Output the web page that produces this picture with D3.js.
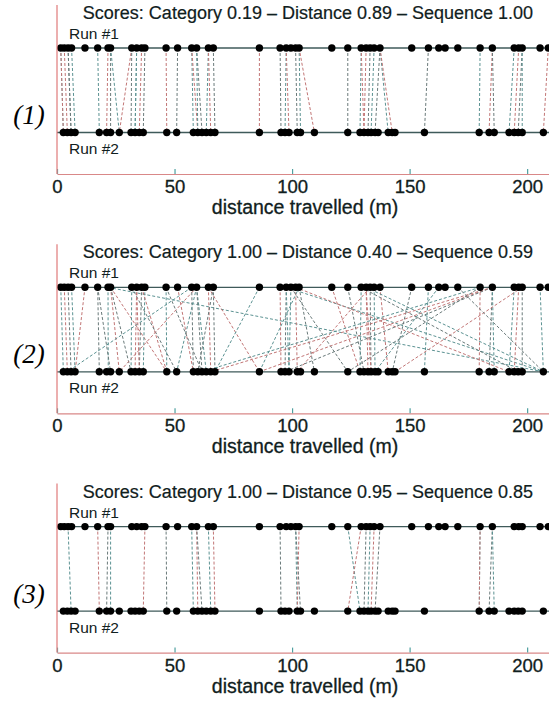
<!DOCTYPE html>
<html>
<head>
<meta charset="utf-8">
<script src="https://cdn.jsdelivr.net/npm/d3@7"></script>
<style>
  body { margin: 0; background: #fff; }
  svg { display: block; font-family: "Liberation Sans", Arial, sans-serif; }
</style>
</head>
<body>
<div id="chart"></div>
<script>
// dot positions along the route (m), same for every panel
const RUN1 = [1.6, 3.1, 4.7, 6.2, 11.9, 17.3, 21.7, 22.8, 31.8, 33.9, 36.0, 37.4, 46.4, 51.3,
  57.3, 59.4, 64.4, 66.5, 86.1, 94.9, 97.5, 99.5, 101.5, 103.0, 116.9, 123.7, 129.4, 131.5,
  133.2, 134.9, 137.4, 150.9, 158.0, 162.4, 165.1, 170.5, 180.0, 185.2, 194.5, 196.4, 197.9,
  205.5, 209.0];
const RUN2 = [2.7, 4.4, 6.0, 7.7, 18.0, 21.1, 22.8, 26.5, 31.5, 33.2, 35.0, 36.7, 46.7, 50.9,
  58.0, 59.9, 61.7, 63.5, 65.4, 67.2, 86.1, 95.3, 97.0, 98.7, 102.2, 103.6, 109.5, 123.7,
  128.9, 130.6, 132.3, 133.6, 135.3, 136.6, 140.9, 142.6, 143.8, 156.3, 179.6, 183.8, 186.0,
  192.3, 194.5, 196.2, 197.9, 206.9];

// matches [run #1 m, run #2 m]
const LINKS1 = [[1.6, 2.7], [3.1, 4.4], [4.7, 6.0], [6.2, 7.7], [1.6, 2.7], [4.7, 6.0],
  [17.3, 18.0], [21.7, 21.1], [22.8, 22.8], [22.8, 26.5], [31.8, 26.5],
  [31.8, 31.5], [33.9, 33.2], [36.0, 35.0], [37.4, 36.7], [33.9, 33.2],
  [46.4, 46.7], [51.3, 50.9], [57.3, 58.0], [57.3, 59.9], [59.4, 61.7], [64.4, 63.5],
  [64.4, 65.4], [66.5, 67.2], [59.4, 59.9], [86.1, 86.1],
  [94.9, 95.3], [97.5, 97.0], [97.5, 98.7], [101.5, 102.2], [103.0, 103.6], [103.0, 109.5],
  [123.7, 123.7], [129.4, 128.9], [131.5, 130.6], [133.2, 132.3], [134.9, 133.6], [129.4, 130.6],
  [137.4, 135.3], [137.4, 140.9], [137.4, 142.6], [158.0, 156.3],
  [180.0, 179.6], [185.2, 183.8], [185.2, 186.0], [194.5, 192.3], [196.4, 194.5],
  [197.9, 196.2], [197.9, 197.9], [209.0, 206.9]];

const LINKS2 = [[1.6, 2.7], [3.1, 4.4], [4.7, 6.0], [6.2, 7.7], [11.9, 7.7],
  [17.3, 18.0], [21.7, 21.8], [22.8, 26.5], [22.8, 31.5], [21.7, 206.9], [22.8, 46.7],
  [17.3, 22.8], [31.8, 31.5], [33.9, 33.2], [36.0, 35.0], [37.4, 36.7], [36.0, 46.7],
  [31.8, 50.9], [46.4, 46.7], [51.3, 58.0], [46.4, 61.7], [57.3, 4.4], [59.4, 26.5],
  [57.3, 58.0], [59.4, 63.5], [64.4, 65.4], [66.5, 67.2], [59.4, 50.9], [64.4, 86.1],
  [66.5, 59.9], [86.1, 67.2], [94.9, 95.3], [97.5, 97.0], [99.5, 98.7], [101.5, 102.2],
  [103.0, 109.5], [97.5, 206.9], [101.5, 192.3], [99.5, 123.7], [103.0, 86.1],
  [116.9, 128.9], [123.7, 130.6], [129.4, 128.9], [131.5, 132.3], [133.2, 133.6],
  [134.9, 135.3], [137.4, 140.9], [129.4, 196.2], [131.5, 206.9], [133.2, 102.2],
  [150.9, 142.6], [158.0, 156.3], [180.0, 179.6], [185.2, 183.8], [185.2, 186.0],
  [185.2, 86.1], [185.2, 97.0], [180.0, 61.7], [185.2, 65.4], [180.0, 123.7],
  [194.5, 192.3], [196.4, 194.5], [197.9, 197.9], [205.5, 206.9], [197.9, 143.8],
  [170.5, 206.9], [162.4, 135.3], [33.9, 35.0], [59.4, 61.7], [97.5, 98.7], [131.5, 133.6]];

const LINKS3 = [[4.7, 6.0], [17.3, 18.0], [21.7, 21.1], [22.8, 22.8], [37.4, 36.7],
  [46.4, 46.7], [57.3, 58.0], [59.4, 59.9], [59.4, 61.7], [64.4, 65.4], [66.5, 67.2],
  [94.9, 95.3], [101.5, 102.2], [103.0, 102.2], [101.5, 103.6], [123.7, 128.9],
  [129.4, 123.7], [131.5, 130.6], [133.2, 132.3], [134.9, 133.6], [137.4, 135.3],
  [180.0, 179.6], [180.0, 179.6], [185.2, 183.8], [185.2, 186.0]];

const PANELS = [
  { tag: '(1)', title: 'Scores: Category 0.19 \u2013 Distance 0.89 \u2013 Sequence 1.00', links: LINKS1 },
  { tag: '(2)', title: 'Scores: Category 1.00 \u2013 Distance 0.40 \u2013 Sequence 0.59', links: LINKS2 },
  { tag: '(3)', title: 'Scores: Category 1.00 \u2013 Distance 0.95 \u2013 Sequence 0.85', links: LINKS3 },
];
const TICKS = [0, 50, 100, 150, 200];
const RUNS = ['Run #1', 'Run #2'];
const XLABEL = 'distance travelled (m)';

const W = 549, H = 704;
const PANEL_STEP = 239.3;
const axisY = 174;
const DASH_COLORS = ['#5b9292', '#c27676', '#6a7a7a'];
const INK = '#102020';

const x = d3.scaleLinear().domain([0, 211]).range([57, 553]);
const y = d3.scalePoint().domain(RUNS).range([48, 132.5]);

const svg = d3.select('#chart').append('svg')
  .attr('width', W)
  .attr('height', H);

PANELS.forEach((p, pi) => {
  const g = svg.append('g').attr('transform', `translate(0,${pi * PANEL_STEP})`);

  // matching lines between the two runs
  g.append('g').selectAll('line')
    .data(p.links)
    .join('line')
    .attr('x1', d => x(d[0]))
    .attr('y1', y(RUNS[0]))
    .attr('x2', d => x(d[1]))
    .attr('y2', y(RUNS[1]))
    .attr('stroke', (d, i) => DASH_COLORS[i % DASH_COLORS.length])
    .attr('stroke-width', 1)
    .attr('stroke-dasharray', '3,2');

  // run lines
  g.selectAll('line.run')
    .data(RUNS)
    .join('line')
    .attr('class', 'run')
    .attr('x1', x.range()[0])
    .attr('x2', x.range()[1])
    .attr('y1', d => y(d))
    .attr('y2', d => y(d))
    .attr('stroke', '#3f5a5a')
    .attr('stroke-width', 1.3);

  [RUN1, RUN2].forEach((pts, ri) => {
    g.append('g').selectAll('circle')
      .data(pts)
      .join('circle')
      .attr('cx', d => x(d))
      .attr('cy', y(RUNS[ri]))
      .attr('r', 3.7)
      .attr('fill', '#000');
  });

  // axes
  const ax = g.append('g')
    .attr('transform', `translate(0,${axisY})`)
    .call(d3.axisBottom(x).tickValues(TICKS).tickSizeInner(-5).tickSizeOuter(0).tickPadding(6));
  ax.select('.domain').attr('stroke', '#d98888').attr('stroke-width', 1.2);
  ax.selectAll('.tick line').attr('stroke', '#4fa0a0').attr('stroke-width', 1.2);
  ax.selectAll('.tick text')
    .attr('font-size', 18.5)
    .attr('font-family', '"Liberation Sans", Arial, sans-serif')
    .attr('fill', INK)
    .attr('stroke', INK)
    .attr('stroke-width', 0.3);

  g.append('line')
    .attr('x1', x(0)).attr('x2', x(0))
    .attr('y1', 5).attr('y2', axisY)
    .attr('stroke', '#e07a7a')
    .attr('stroke-width', 1.2);

  g.append('text')
    .attr('x', 305).attr('y', 214)
    .attr('text-anchor', 'middle')
    .attr('font-size', 19.5)
    .attr('fill', INK)
    .attr('stroke', INK)
    .attr('stroke-width', 0.3)
    .text(XLABEL);

  g.append('text')
    .attr('x', 308).attr('y', 19)
    .attr('text-anchor', 'middle')
    .attr('font-size', 18)
    .attr('fill', INK)
    .attr('stroke', INK)
    .attr('stroke-width', 0.2)
    .text(p.title);

  g.append('text')
    .attr('x', 69).attr('y', 39)
    .attr('font-size', 15.5)
    .attr('fill', INK)
    .text(RUNS[0]);

  g.append('text')
    .attr('x', 69).attr('y', 154)
    .attr('font-size', 15.5)
    .attr('fill', INK)
    .text(RUNS[1]);

  g.append('text')
    .attr('x', 29).attr('y', 115)
    .attr('text-anchor', 'middle')
    .attr('dominant-baseline', 'central')
    .attr('font-size', 27)
    .attr('font-style', 'italic')
    .attr('font-family', '"Liberation Serif", "DejaVu Serif", serif')
    .attr('fill', '#000')
    .text(p.tag);
});
</script>
</body>
</html>
